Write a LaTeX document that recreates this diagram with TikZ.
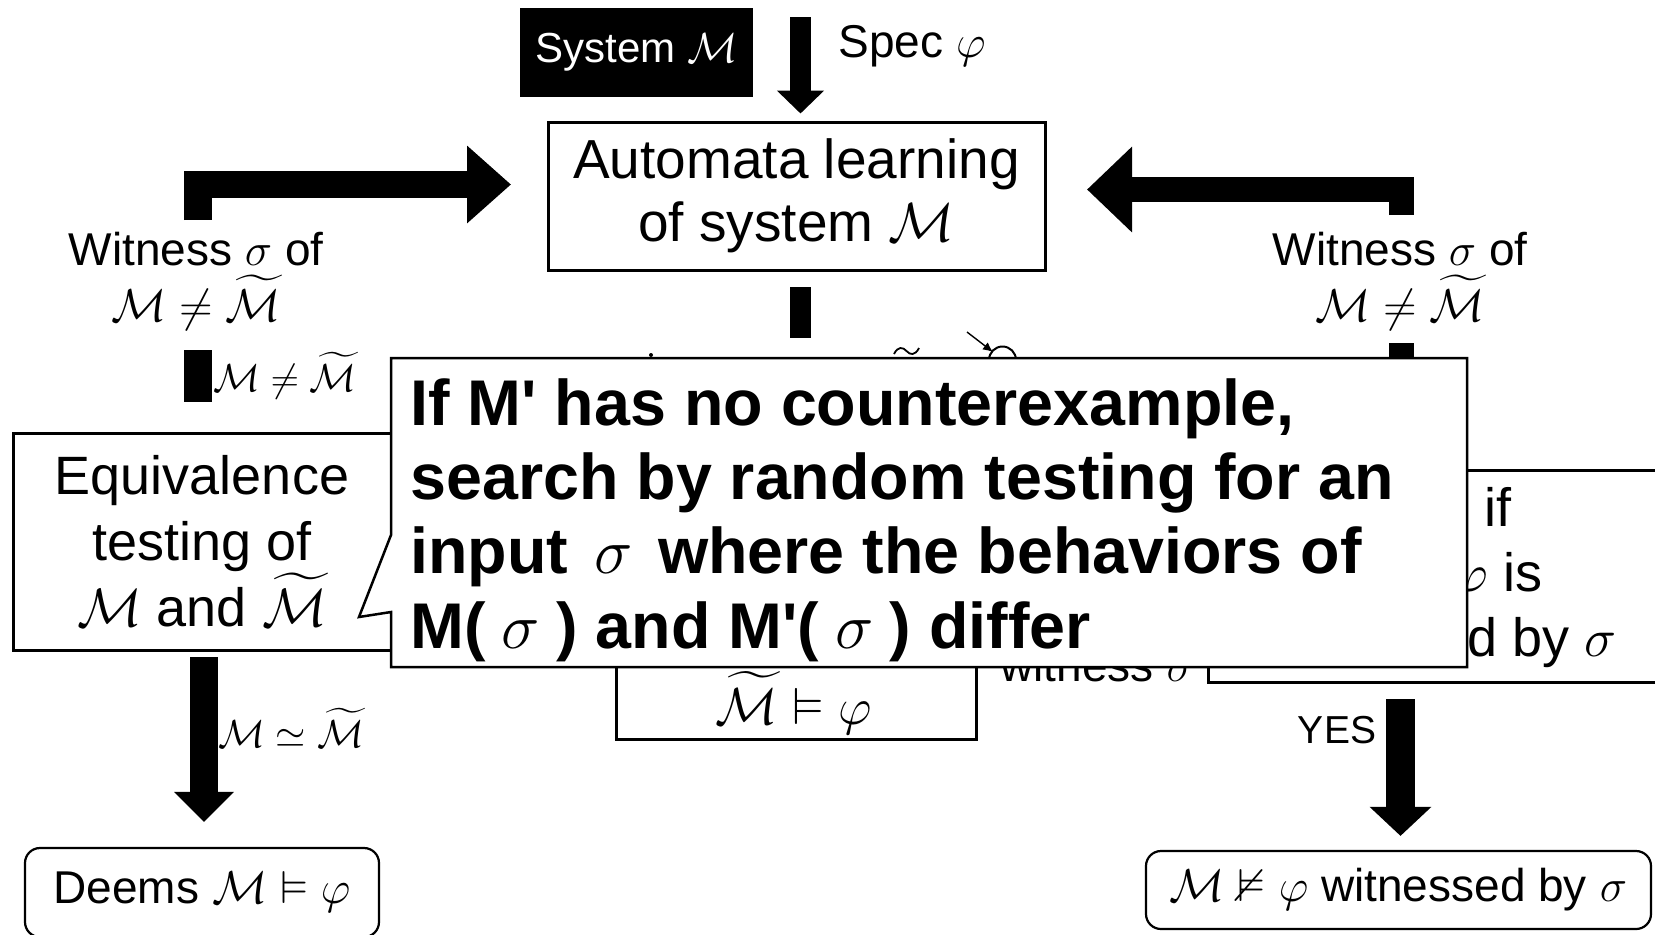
\RequirePackage{fix-cm}
\documentclass[tikz,border=0pt]{standalone}
\usepackage{amssymb}
\usepackage[no-math]{fontspec}
\setmainfont{Liberation Sans}
\newfontfamily\callfont{Liberation Sans}
\usetikzlibrary{arrows.meta}

% font sizes (1 px of the layout grid = 0.5pt)
\newcommand\FtBox{\fontsize{27pt}{33pt}\selectfont}
\newcommand\FtAuto{\fontsize{27.5pt}{31.5pt}\selectfont}
\newcommand\FtLab{\fontsize{23pt}{28pt}\selectfont}
\newcommand\FtSmall{\fontsize{19.5pt}{23pt}\selectfont}
\newcommand\FtSys{\fontsize{21pt}{25pt}\selectfont}
\newcommand\FtRes{\fontsize{23pt}{27pt}\selectfont}
\newcommand\FtCall{\fontsize{32.3pt}{37.15pt}\selectfont}
\newcommand\Mt{\widetilde{\mathcal{M}}}

\tikzset{
  plainbox/.style={draw, line width=1.5pt, inner sep=0pt, align=center},
  roundbox/.style={draw, line width=1.1pt, rounded corners=7.5pt, inner sep=0pt, align=center},
  sysbox/.style={fill=black, text=white, inner sep=0pt},
  lbl/.style={inner sep=0pt, align=center},
}

\begin{document}
\begin{tikzpicture}[x=0.5pt, y=-0.5pt]
\useasboundingbox (0,0) rectangle (1655,934);
\fill[white] (0,0) rectangle (1655,934);

% ---- inputs and the learning step ----
\node[sysbox, minimum width=116.5pt, minimum height=44.5pt, font=\FtSys] (sys) at (636.5,52.5) {System $\mathcal{M}$};
\node[lbl, anchor=base west, font=\FtLab] (spec) at (838,57) {Spec $\varphi$};
\node[plainbox, minimum width=248.5pt, minimum height=74pt, font=\FtAuto] (auto) at (796.5,196)
  {Automata learning\\of system $\mathcal{M}$};

\coordinate (specTop) at (800.5,17);
\draw[line width=10.5pt, -{Triangle[width=23pt,length=11.5pt]}, shorten >=3.5pt]
  (specTop) -- (specTop |- auto.north);

% ---- feedback labels and bent arrows ----
\node[lbl, font=\FtLab] (wl) at (196,281) {Witness $\sigma$ of\\$\mathcal{M}\neq\Mt$};
\node[lbl, font=\FtLab] (wr) at (1400,281) {Witness $\sigma$ of\\$\mathcal{M}\neq\Mt$};

\coordinate (lstub) at (198,220);
\coordinate (ltip) at (511,184.5);
\draw[line width=13.75pt, -{Triangle[width=37.5pt,length=22pt]}] (lstub) |- (ltip);

\coordinate (rstub) at (1401.5,215);
\coordinate (rtip) at (1087,189.5);
\draw[line width=12.5pt, -{Triangle[width=41.5pt,length=22.5pt]}] (rstub) |- (rtip);

% short bars
\fill (184,350) rectangle (212,402);
\fill (790,287) rectangle (811,338);
\fill (1389,343) rectangle (1414,372);
\node[lbl, font=\FtSmall] (ln) at (285,376) {$\mathcal{M}\neq\Mt$};

% ---- equivalence testing branch ----
\node[plainbox, minimum width=189pt, minimum height=108.5pt, font=\FtBox] (eq) at (202,541.5)
  {Equivalence\\testing of\\$\mathcal{M}$ and $\Mt$};
\node[roundbox, minimum width=177pt, minimum height=44.5pt, font=\FtRes] (deems) at (202,892.5)
  {Deems $\mathcal{M}\vDash\varphi$};
\coordinate (eqOut) at (204,657);
\draw[line width=14pt, -{Triangle[width=29pt,length=15pt]}, shorten >=12.5pt]
  (eqOut) -- (eqOut |- deems.north);
\node[lbl, font=\FtSmall] (le) at (291,728) {$\mathcal{M}\simeq\Mt$};

% ---- model checking box ----
\node[plainbox, minimum width=180pt, minimum height=90pt] (mc) at (796,649) {};
\node[lbl, font=\fontsize{26pt}{30pt}\selectfont] (mct) at (794,703) {$\Mt\vDash\varphi$};
\fill (651,355) circle[radius=2];
\draw[line width=0.9pt] (894,354) .. controls (898,346) and (903,347) .. (906.5,351)
  .. controls (910,355) and (915,356) .. (919,348);
\draw[line width=0.7pt, -{Latex[length=5pt,width=4.5pt]}] (967,332) -- (993,352);
\draw[line width=1pt] (989,360) arc[start angle=180, end angle=360, radius=13.5];
\node[lbl, anchor=base west, font=\FtLab] (wfrag) at (1000,681) {witness $\sigma$};

% ---- counterexample check ----
\node[plainbox, minimum width=246pt, minimum height=106pt] (chk) at (1454,576) {};
\node[lbl, anchor=base east, font=\FtBox] (chk1) at (1512,526) {if};
\node[lbl, anchor=base east, font=\FtBox] (chk2) at (1543,591) {$\varphi$ is};
\node[lbl, anchor=base east, font=\FtBox] (chk3) at (1617,656) {d by $\sigma$};

\node[roundbox, minimum width=252.5pt, minimum height=39pt, font=\FtRes] (res) at (1398.5,890)
  {$\mathcal{M}\nvDash\varphi$ witnessed by $\sigma$};
\coordinate (yesTop) at (1400.5,699);
\draw[line width=14.5pt, -{Triangle[width=30pt,length=14.5pt]}, shorten >=7pt]
  (yesTop) -- (yesTop |- res.north);
\node[lbl, font=\FtSmall] (yes) at (1337,730) {YES};

% ---- callout note on top (its base anchor sits on the last line) ----
\draw[fill=white, line width=1.25pt] (391,358) -- (1467,358) -- (1467,667) -- (391,667)
  -- (391,612) -- (359,617) -- (391,535) -- cycle;
\node[lbl, anchor=base west, align=left, font=\callfont\bfseries\FtCall] (note) at (410,648)
  {If M' has no counterexample,\\
   search by random testing for an\\
   input\hspace{0.4em}$\sigma$\hspace{0.4em}where the behaviors of\\
   M(\hspace{0.25em}$\sigma$\hspace{0.25em}) and M'(\hspace{0.25em}$\sigma$\hspace{0.25em}) differ};
\end{tikzpicture}
\end{document}
